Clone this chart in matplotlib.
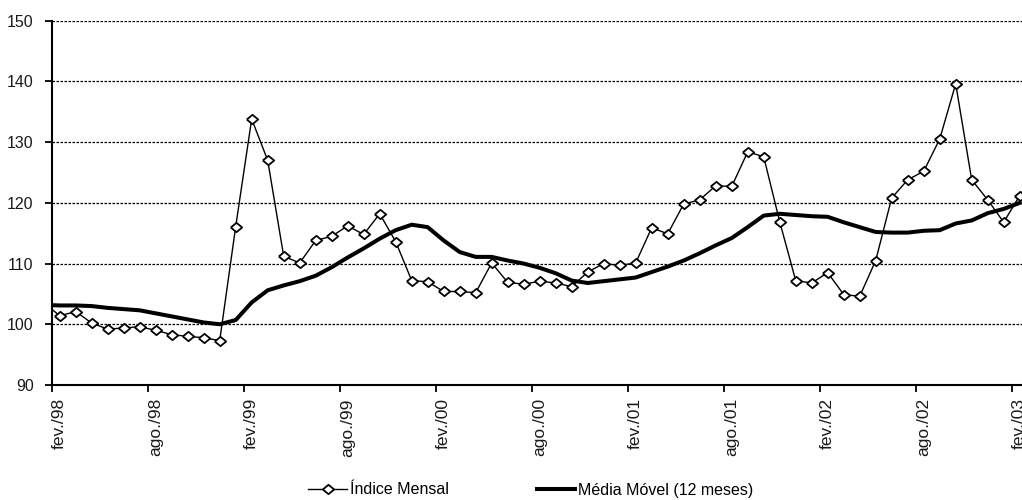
#!/usr/bin/env python3
"""
Índice Mensal vs Média Móvel (12 meses), fev/98 a fev/03.
Saves out.png (1022 x 500).
"""

import numpy as np
import matplotlib
matplotlib.use("Agg")
import matplotlib.pyplot as plt
from matplotlib.ticker import FixedLocator, NullFormatter

# ── Data (first entry = jan/98, just left of the axis) ──────────────────────
indice_mensal = [
    103.6,
    101.4, 102.1, 100.2, 99.2, 99.4, 99.6, 99.0, 98.3, 98.0, 97.8, 97.3, 116.1,
    133.8, 127.0, 111.2, 110.1, 113.8, 114.5, 116.2, 114.8, 118.2, 113.6, 107.2, 107.0,
    105.4, 105.4, 105.2, 110.1, 106.9, 106.6, 107.1, 106.8, 106.2, 108.6, 110.0, 109.7,
    110.1, 115.9, 114.9, 119.8, 120.5, 122.8, 122.7, 128.4, 127.6, 116.9, 107.2, 106.8,
    108.5, 104.9, 104.6, 110.5, 120.8, 123.8, 125.2, 130.5, 139.6, 123.8, 120.5, 116.8,
    121.2,
]
media_movel = [
    103.2,
    103.1, 103.1, 103.0, 102.7, 102.5, 102.3, 101.8, 101.3, 100.8, 100.3, 100.0, 100.7,
    103.6, 105.6, 106.4, 107.1, 108.0, 109.4, 111.0, 112.5, 114.1, 115.5, 116.4, 116.0,
    113.8, 111.9, 111.1, 111.1, 110.5, 110.0, 109.3, 108.4, 107.2, 106.8, 107.1, 107.4,
    107.7, 108.6, 109.5, 110.5, 111.7, 113.0, 114.2, 116.0, 117.9, 118.2, 118.0, 117.8,
    117.7, 116.8, 116.0, 115.2, 115.1, 115.1, 115.4, 115.5, 116.6, 117.1, 118.3, 119.0,
    120.0,
]
month_idx = np.arange(-1, len(indice_mensal) - 1)   # 0 = fev/98

tick_labels = ["fev./98", "ago./98", "fev./99", "ago./99", "fev./00", "ago./00",
               "fev./01", "ago./01", "fev./02", "ago./02", "fev./03"]
y_ticks = [90, 100, 110, 120, 130, 140, 150]

LABEL_FONT = ["Liberation Sans", "DejaVu Sans"]
LEGEND_FONT = ["Liberation Sans Narrow", "Liberation Sans", "DejaVu Sans"]

W, H = 1022, 500
fig = plt.figure(figsize=(W / 100, H / 100), dpi=100)
fig.patch.set_facecolor("white")

# plot area in pixels (right edge runs off the picture, as in the source)
left_px, right_px, top_px, bot_px = 51.7, 1022, 20.7, 385.0
ax = fig.add_axes([left_px / W, 1 - bot_px / H,
                   (right_px - left_px) / W, (bot_px - top_px) / H])

ax.plot(month_idx, media_movel, color="black", lw=2.9, zorder=3,
        solid_joinstyle="round", label="Média Móvel (12 meses)")
diamond = [(-1, 0), (0, 0.82), (1, 0), (0, -0.82), (-1, 0)]
ax.plot(month_idx, indice_mensal, color="black", lw=1.0, zorder=4,
        marker=diamond, markersize=8.2, markerfacecolor="white",
        markeredgecolor="black", markeredgewidth=1.3,
        label="Índice Mensal")

# ── Axes ─────────────────────────────────────────────────────────────────────
px_per_month = 16.0
ax.set_xlim(-0.5, -0.5 + (right_px - left_px) / px_per_month)
ax.set_ylim(90, 150)

ax.set_yticks(y_ticks)
ax.set_yticklabels([str(v) for v in y_ticks], fontfamily=LABEL_FONT,
                   fontsize=11.5, color="#1a1a1a")
ax.tick_params(axis="y", length=5, width=1.3, pad=8, color="black")

ax.xaxis.set_major_locator(FixedLocator(np.arange(0, 61, 6)))
ax.set_xticklabels(tick_labels, rotation=90, fontfamily=LABEL_FONT,
                   fontsize=12.5, color="#1a1a1a", va="top", ha="center")
ax.xaxis.set_minor_locator(FixedLocator(np.arange(-0.5, 61, 6)))
ax.xaxis.set_minor_formatter(NullFormatter())
ax.tick_params(axis="x", which="major", length=0, pad=9.5)
ax.tick_params(axis="x", which="minor", length=5, width=1.3, color="black")

for side in ("top", "right"):
    ax.spines[side].set_visible(False)
for side in ("left", "bottom"):
    ax.spines[side].set_linewidth(1.5)
    ax.spines[side].set_zorder(5)

ax.yaxis.grid(True, color="black", lw=0.9, linestyle=(0, (2.0, 1.2)))
ax.set_axisbelow(True)

# ── Legend ───────────────────────────────────────────────────────────────────
handles, labels = ax.get_legend_handles_labels()
fig.legend(handles[::-1], labels[::-1], loc="center",
           bbox_to_anchor=(531 / W, 1 - 490 / H), ncol=2, frameon=False,
           prop={"family": LEGEND_FONT, "size": 11.5},
           handlelength=2.4, handletextpad=0.2, columnspacing=5.5,
           borderaxespad=0, borderpad=0)

fig.savefig("out.png", dpi=100, facecolor="white")
